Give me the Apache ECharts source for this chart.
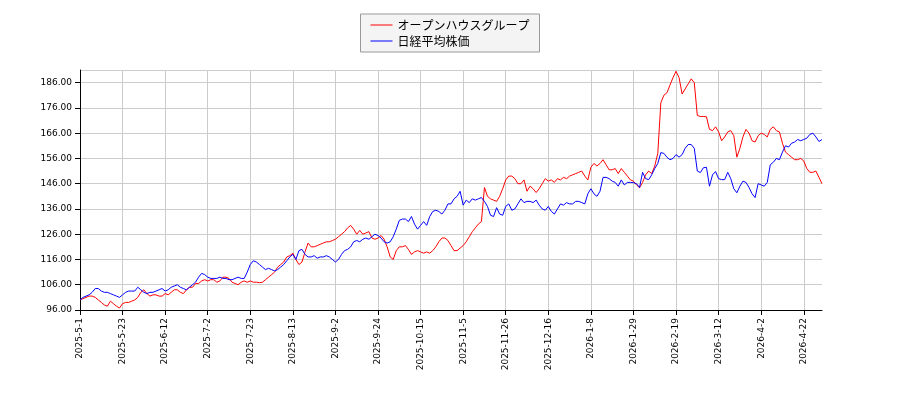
<!DOCTYPE html>
<html>
<head>
<meta charset="utf-8">
<script src="https://cdn.jsdelivr.net/npm/echarts@6/dist/echarts.min.js"></script>
<style>html,body{margin:0;padding:0;background:#fff}#main{width:900px;height:400px}</style>
</head>
<body>
<div id="main"></div>
<script>
var chartDom = document.getElementById('main');
var myChart = echarts.init(chartDom);

// Tokyo exchange closed days in the range
const holidays = ['2025-5-5', '2025-5-6', '2025-7-21', '2025-8-11', '2025-9-15', '2025-9-23',
  '2025-10-13', '2025-11-3', '2025-11-24', '2025-12-31', '2026-1-1', '2026-1-2',
  '2026-1-12', '2026-2-11', '2026-2-23', '2026-3-20', '2026-4-29'];

const dates = [];
for (let d = new Date(2025, 4, 1); d <= new Date(2026, 4, 1); d.setDate(d.getDate() + 1)) {
  const s = d.getFullYear() + '-' + (d.getMonth() + 1) + '-' + d.getDate();
  if (d.getDay() === 0 || d.getDay() === 6 || holidays.includes(s)) continue;
  dates.push(s);
}

// オープンハウスグループ (start = 100)
const openHouse = [
  100, 100.5, 101, 101.5, 101.5, 101, 100, 99, 98, 97.5, 99.5, 98.5, 97.5, 96.8, 98.5,
  99, 99, 99.5, 100, 101, 103, 104, 102.5, 101.5, 102, 102, 101.5, 101.5, 102.5,
  102, 103, 104, 104, 103, 102.5, 104, 105, 105, 106.5, 106.5, 107.5, 108, 107.5,
  108, 108, 107, 107.5, 109, 109, 108.5, 107, 106.5, 106, 107, 107.5, 107, 107.5,
  107, 107, 106.8, 107, 108, 109, 110, 111, 113, 114, 115, 117, 117.5, 118.5,
  116, 114, 115, 119, 122.5, 121, 121, 121.5, 122, 122.5, 123, 123, 123.5, 124,
  125, 126, 127, 128.5, 129.5, 128, 126, 127.5, 126, 126.5, 127, 124.5, 124, 124.5,
  125.5, 124, 121, 117, 116, 119.5, 121, 121, 121.5, 120, 118, 119, 119.5, 119,
  118.5, 119, 118.5, 119.5, 121, 123, 124.5, 124.5, 123.5, 121.5, 119.5, 119.5, 120.5, 121.5,
  123, 125, 127, 128.5, 130, 131, 144.5, 141, 140, 139.5, 139, 141, 144, 147.5,
  149, 149, 148, 146, 146, 147.5, 143, 145, 144, 142.5, 144, 146, 148, 147,
  147.5, 146.5, 148, 147.5, 148.5, 148, 149, 149.5, 150, 150.5, 151, 149, 147.5, 152.5,
  154, 153, 154, 155.5, 153.5, 151.5, 151.5, 152, 150, 152, 150.5, 149, 147.5, 147,
  145.5, 144.4, 146.5, 149.5, 151, 150, 153, 158, 178, 181, 182, 185, 188, 190.5,
  188, 181.5, 183.5, 185.5, 187.5, 186, 173, 172.6, 172.6, 172.5, 167.5, 167, 168.5, 166.5,
  163, 164.5, 166.5, 167, 165, 156.5, 160, 164.5, 167.5, 166, 163, 162.5, 165, 166,
  165.5, 164.5, 167.5, 168.5, 167, 166.5, 162, 158.5, 157.5, 156.5, 155.5, 155.5, 156, 155,
  152, 150.5, 150.5, 151, 148.5, 146
];

// 日経平均株価 (start = 100)
const nikkei = [
  100, 101, 101.5, 102, 103, 104.5, 104.5, 103.5, 103, 103, 102.5, 102, 101.5, 101, 102,
  103, 103.5, 103.5, 103.5, 105, 104, 103, 102.5, 103, 103, 103.5, 104, 104.5, 103.5,
  104, 105, 105.5, 106, 105, 104.5, 104, 105, 106, 107, 109, 110.5, 110, 109,
  108.5, 108.5, 108.5, 109, 108.5, 108.5, 108, 108, 108.5, 109, 108.5, 108.5, 111, 114,
  115.5, 115, 114, 113, 112, 112.5, 112, 111.5, 112, 113, 114, 115.5, 117, 118,
  116, 119.5, 120, 118, 117, 117, 117.5, 116.5, 117, 117, 117.5, 117, 116, 115,
  116, 118, 119.5, 120, 121, 123, 123.5, 123, 124, 124.5, 124, 125, 126, 125.5,
  124.5, 123, 122.5, 123, 125, 128, 131.5, 132, 132, 131, 133, 130, 128, 129.5,
  131, 129.5, 133, 135, 135.5, 135, 134, 135.5, 138, 138, 140, 141, 143, 137.5,
  139.5, 138.5, 140, 139.5, 140, 140.5, 139, 137, 133.5, 133, 136.5, 134, 133.5, 137,
  138, 135.5, 136, 138, 140, 138.5, 139, 139, 138.5, 139.5, 137.5, 136, 135.5, 137,
  135, 134, 136, 138, 137.5, 138.5, 138, 138, 139, 139, 138.5, 138, 142, 144,
  142, 141, 143, 148.5, 148.5, 148, 147, 146.5, 145, 147.5, 145.5, 146.5, 146.5, 146.4,
  146, 144.5, 150.5, 148, 147.6, 149.5, 152, 154, 158.3, 158, 156.5, 155.5, 156, 157.5,
  156.5, 157.5, 160, 161.5, 161.5, 160, 151, 150.4, 152.3, 152.5, 145, 149.5, 150.8, 148,
  147.6, 147.6, 150.5, 148, 144, 142.4, 145, 147, 146.5, 144.5, 142, 140.5, 146, 145.5,
  145, 146.5, 153.5, 154.5, 156, 155.5, 158.5, 161, 160.5, 162, 162.5, 163.5, 163, 163.5,
  164, 165.5, 166, 164.5, 162.7, 163.5
];

const labelFont = 'DejaVu Sans';

var option = {
  animation: false,
  legend: {
    orient: 'vertical',
    top: 14,
    left: 'center',
    padding: [5, 10],
    itemGap: 4,
    itemWidth: 22,
    itemHeight: 8,
    borderColor: '#999',
    borderWidth: 1,
    backgroundColor: '#f4f4f4',
    textStyle: { fontFamily: 'Noto Sans CJK JP', fontSize: 12, color: '#000' },
    data: [
      { name: 'オープンハウスグループ', icon: 'path://M0,4L22,4L22,5L0,5Z' },
      { name: '日経平均株価', icon: 'path://M0,4L22,4L22,5L0,5Z' }
    ]
  },
  grid: { left: 80, right: 78, top: 70, bottom: 90 },
  xAxis: {
    type: 'category',
    data: dates,
    boundaryGap: false,
    axisLine: { lineStyle: { color: '#000' } },
    axisTick: { interval: 13, lineStyle: { color: '#000' } },
    axisLabel: { interval: 13, rotate: 90, fontSize: 9, color: '#000', fontFamily: labelFont },
    splitLine: { show: true, interval: 13, lineStyle: { color: '#ccc' } }
  },
  yAxis: {
    type: 'value',
    min: 96,
    max: 191,
    interval: 10,
    axisLine: { show: true, lineStyle: { color: '#000' } },
    axisTick: { show: true, lineStyle: { color: '#000' } },
    axisLabel: { fontSize: 9, color: '#000', fontFamily: labelFont, showMaxLabel: false,
      formatter: v => v.toFixed(2) },
    splitLine: { show: true, lineStyle: { color: '#ccc' } }
  },
  series: [
    { name: 'オープンハウスグループ', type: 'line', data: openHouse, showSymbol: false,
      lineStyle: { color: '#ff0000', width: 1 }, itemStyle: { color: '#ff0000' } },
    { name: '日経平均株価', type: 'line', data: nikkei, showSymbol: false,
      lineStyle: { color: '#0000ff', width: 1 }, itemStyle: { color: '#0000ff' } }
  ]
};

option && myChart.setOption(option);
</script>
</body>
</html>
